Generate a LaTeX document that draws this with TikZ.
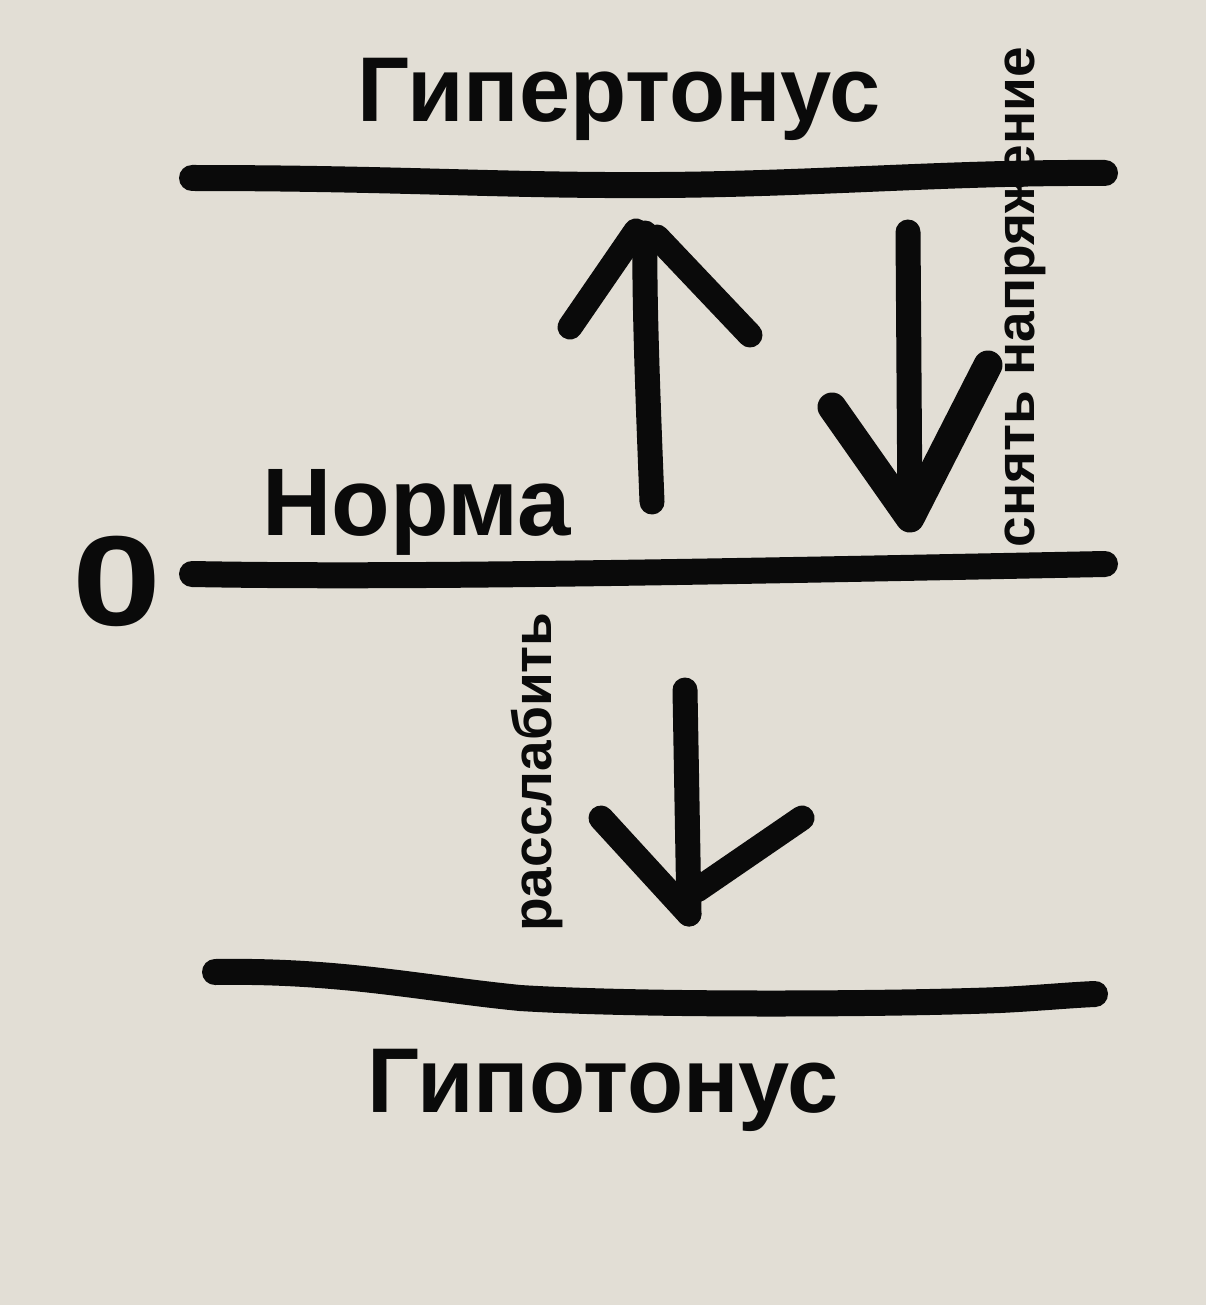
\documentclass[tikz,border=0pt]{standalone}
\usepackage{fontspec}
\setmainfont{Liberation Sans}
\definecolor{paper}{HTML}{E2DED5}
\definecolor{ink}{HTML}{0A0A0A}
\begin{document}
\begin{tikzpicture}[x=0.5pt,y=-0.5pt,
  stroke/.style={draw=ink, line width=13pt, line cap=round, line join=round},
  arrowline/.style={draw=ink, line width=12.5pt, line cap=round, line join=round},
  thickarrow/.style={draw=ink, line width=14.5pt, line cap=round, line join=round},
  big/.style={font=\fontsize{46}{50}\selectfont\bfseries, inner sep=0pt, text=ink},
  side/.style={font=\fontsize{27.5}{30}\selectfont\bfseries, inner sep=0pt, rotate=90, text=ink},
  zerostyle/.style={font=\fontsize{64}{68}\selectfont\bfseries, inner sep=0pt, xscale=1.25, text=ink}]
\useasboundingbox[fill=paper] (0,0) rectangle (1206,1305);

% level lines
\draw[stroke] (192,178) .. controls (400,178) and (500,186) .. (660,185)
  .. controls (820,184) and (950,172) .. (1105,173);
\draw[stroke] (192,574) .. controls (400,578) and (700,572) .. (1105,564);
\draw[stroke] (215,972) .. controls (340,970) and (420,988) .. (520,998)
  .. controls (650,1006) and (900,1004) .. (1000,1000)
  .. controls (1040,998) and (1070,995) .. (1095,994);

% labels
\node[big, anchor=base] (hyper) at (619,122) {Гипертонус};
\node[big, anchor=base] (hypo) at (603,1112) {Гипотонус};
\node[big, anchor=base west, font=\fontsize{48}{52}\selectfont\bfseries] (norma) at (262,535) {Норма};
\node[zerostyle, anchor=base] (zero) at (117,625) {0};
\node[side, anchor=base] (snyat) at (1034,297) {снять напряжение};
\node[side, anchor=base] (rass) at (551,772) {расслабить};

% up arrow (Норма -> Гипертонус)
\coordinate (upB) at (652,502);
\coordinate (upT) at (645,233);
\coordinate (upL) at (570,327);
\coordinate (upLT) at (636,231);
\coordinate (upRT) at (657,237);
\coordinate (upR) at (750,335);
\draw[arrowline] (upB) .. controls (648,400) and (644,300) .. (upT);
\draw[arrowline] (upL) -- (upLT);
\draw[arrowline] (upRT) -- (upR);

% down arrow (Гипертонус -> Норма)
\coordinate (dnT) at (908,232);
\coordinate (dnB) at (910,518);
\coordinate (dnL) at (832,407);
\coordinate (dnR) at (988,365);
\draw[arrowline] (dnT) -- (dnB);
\draw[thickarrow] (dnL) -- (dnB) -- (dnR);

% down arrow (Норма -> Гипотонус)
\coordinate (loT) at (685,690);
\coordinate (loB) at (689,914);
\coordinate (loL) at (601,818);
\coordinate (loR) at (802,818);
\coordinate (loRB) at (697,890);
\draw[arrowline] (loT) -- (loB);
\draw[arrowline] (loL) -- (loB);
\draw[arrowline] (loR) -- (loRB);
\end{tikzpicture}
\end{document}
